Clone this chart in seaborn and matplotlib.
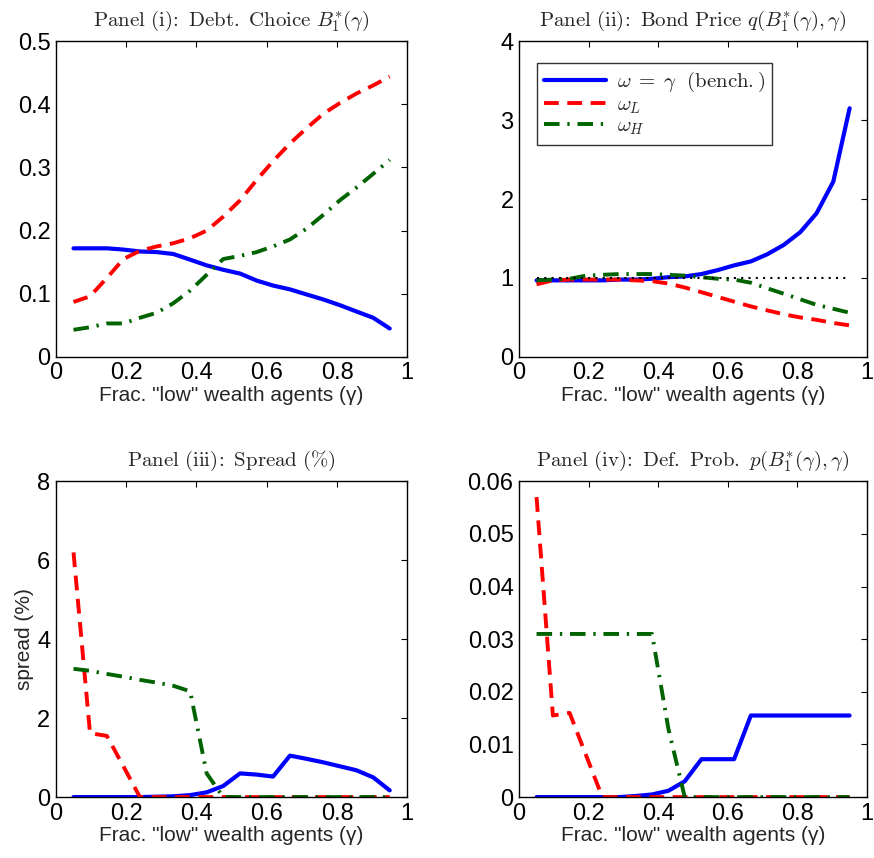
import numpy as np
import pandas as pd
import matplotlib
matplotlib.use("Agg")
import matplotlib.pyplot as plt
from matplotlib.ticker import FuncFormatter
import seaborn as sns

# grid of gamma values (fraction of low wealth agents)
gamma = [0.05, 0.097, 0.145, 0.192, 0.239, 0.287, 0.334, 0.382, 0.429, 0.476,
         0.524, 0.571, 0.618, 0.666, 0.713, 0.761, 0.808, 0.855, 0.903, 0.95]

# panel (i): debt choice
debt_bench = [0.172, 0.172, 0.172, 0.170, 0.167, 0.166, 0.163, 0.154, 0.145, 0.138,
              0.132, 0.121, 0.113, 0.107, 0.099, 0.091, 0.082, 0.072, 0.062, 0.045]
debt_low = [0.087, 0.096, 0.125, 0.155, 0.168, 0.175, 0.180, 0.188, 0.200, 0.222,
            0.248, 0.280, 0.310, 0.338, 0.362, 0.385, 0.402, 0.417, 0.430, 0.444]
debt_high = [0.043, 0.047, 0.053, 0.053, 0.062, 0.070, 0.085, 0.105, 0.130, 0.155,
             0.160, 0.166, 0.175, 0.186, 0.203, 0.225, 0.248, 0.268, 0.290, 0.312]

# panel (ii): bond price
price_bench = [0.97, 0.97, 0.97, 0.97, 0.97, 0.98, 0.98, 0.99, 1.01, 1.02,
               1.05, 1.10, 1.16, 1.21, 1.30, 1.42, 1.58, 1.82, 2.22, 3.15]
price_low = [0.92, 0.97, 0.98, 0.98, 0.98, 0.98, 0.97, 0.96, 0.93, 0.88,
             0.82, 0.76, 0.70, 0.64, 0.59, 0.54, 0.50, 0.47, 0.43, 0.40]
price_high = [0.97, 0.98, 0.99, 1.03, 1.04, 1.05, 1.05, 1.05, 1.04, 1.03,
              1.01, 0.99, 0.98, 0.94, 0.87, 0.80, 0.73, 0.66, 0.61, 0.56]
par_price = 1.0

# panel (iii): spread (%)
spread_bench = [0, 0, 0, 0, 0, 0.01, 0.02, 0.05, 0.12, 0.28,
                0.60, 0.57, 0.52, 1.05, 0.97, 0.88, 0.78, 0.68, 0.50, 0.17]
spread_low = [6.2, 1.62, 1.55, 0.78, 0, 0, 0, 0, 0, 0,
              0, 0, 0, 0, 0, 0, 0, 0, 0, 0]
spread_high = [3.25, 3.20, 3.12, 3.05, 2.97, 2.90, 2.82, 2.68, 0.60, 0,
               0, 0, 0, 0, 0, 0, 0, 0, 0, 0]

# panel (iv): default probability
prob_bench = [0, 0, 0, 0, 0, 0, 0.0002, 0.0005, 0.0012, 0.003,
              0.0072, 0.0072, 0.0072, 0.0155, 0.0155, 0.0155, 0.0155, 0.0155, 0.0155, 0.0155]
prob_low = [0.057, 0.0155, 0.016, 0.008, 0, 0, 0, 0, 0, 0,
            0, 0, 0, 0, 0, 0, 0, 0, 0, 0]
prob_high = [0.031, 0.031, 0.031, 0.031, 0.031, 0.031, 0.031, 0.031, 0.013, 0,
             0, 0, 0, 0, 0, 0, 0, 0, 0, 0]

titles = [r'$\mathrm{Panel\ (i)\!:\ Debt.\ Choice}\ B_1^{*}(\gamma)$',
          r'$\mathrm{Panel\ (ii)\!:\ Bond\ Price}\ q(B_1^{*}(\gamma),\gamma)$',
          r'$\mathrm{Panel\ (iii)\!:\ Spread\ (\%)}$',
          r'$\mathrm{Panel\ (iv)\!:\ Def.\ Prob.}\ p(B_1^{*}(\gamma),\gamma)$']
labels = [r'$\omega\;=\;\gamma\ \ \mathrm{(bench.)}$', r'$\omega_L$', r'$\omega_H$']
xlabel = 'Frac. "low" wealth agents (\u03b3)'

sns.set_style("white")
plt.rcParams['font.family'] = ['Liberation Sans', 'DejaVu Sans']
plt.rcParams['mathtext.fontset'] = 'cm'

fig = plt.figure(figsize=(8.74, 8.58), dpi=100)
axes = [fig.add_axes([0.064, 0.584, 0.402, 0.368]),
        fig.add_axes([0.594, 0.584, 0.398, 0.368]),
        fig.add_axes([0.064, 0.071, 0.402, 0.368]),
        fig.add_axes([0.594, 0.071, 0.398, 0.368])]

panels = [(debt_bench, debt_low, debt_high, 0.5, 0.1),
          (price_bench, price_low, price_high, 4, 1),
          (spread_bench, spread_low, spread_high, 8, 2),
          (prob_bench, prob_low, prob_high, 0.06, 0.01)]

blue = (0, 0, 1)
red = (1, 0, 0)
green = (0, 0.39, 0)

for i, (ax, (bench, low, high, ymax, ystep)) in enumerate(zip(axes, panels)):
    sns.lineplot(x=gamma, y=bench, ax=ax, color=blue, lw=3.0, label=labels[0])
    sns.lineplot(x=gamma, y=low, ax=ax, color=red, lw=2.8,
                 linestyle=(0, (3.8, 2.2)), label=labels[1])
    sns.lineplot(x=gamma, y=high, ax=ax, color=green, lw=2.8,
                 linestyle=(0, (4, 2, 0.6, 2)), label=labels[2])
    if i == 1:
        ax.hlines(par_price, gamma[0], gamma[-1], colors='black', lw=1.5,
                  linestyles=(0, (1, 2.5)))
        leg = ax.legend(loc='upper left', fontsize=15, handlelength=3.0,
                        frameon=True, fancybox=False, edgecolor='black',
                        borderpad=0.35, labelspacing=0.05, handletextpad=0.5,
                        bbox_to_anchor=(0.02, 0.965))
        leg.get_frame().set_linewidth(1.0)
    else:
        ax.get_legend().remove()

    ax.set_xlim(0, 1)
    ax.set_ylim(0, ymax)
    ax.set_xticks(np.arange(0, 1.01, 0.2))
    ax.set_yticks(np.arange(0, ymax + ystep / 2, ystep))
    fmt = FuncFormatter(lambda v, p: '%g' % round(v, 6))
    ax.xaxis.set_major_formatter(fmt)
    ax.yaxis.set_major_formatter(fmt)
    ax.tick_params(direction='in', top=True, right=True, length=4,
                   width=0.8, labelsize=17, colors='black', pad=4)
    for s in ax.spines.values():
        s.set_visible(True)
        s.set_color('black')
        s.set_linewidth(1.0)
    ax.set_title(titles[i], fontsize=15, pad=11)
    ax.set_xlabel(xlabel, fontsize=15, labelpad=1)

axes[2].set_ylabel('spread (%)', fontsize=15, labelpad=2)

fig.savefig('out.png', dpi=100)
